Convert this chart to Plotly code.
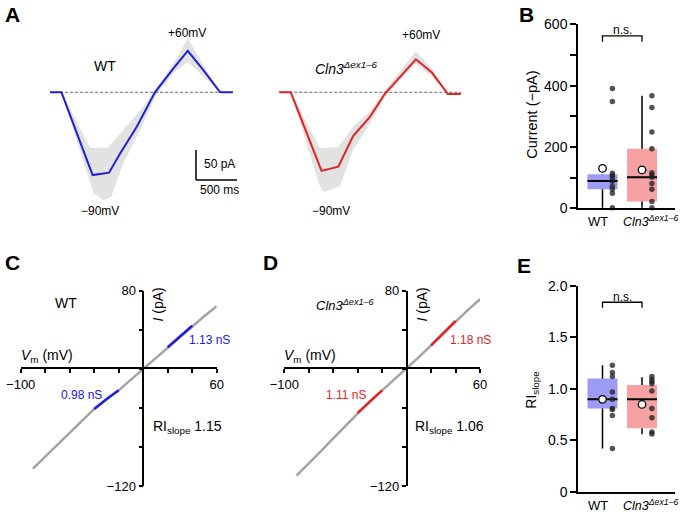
import plotly.graph_objects as go

W, H = 681, 513
def px(x): return x / W
def py(y): return 1 - y / H

FONT = "Liberation Sans, Arial, Helvetica, sans-serif"
BLUE = "#2020d6"
RED = "#e32222"
BAND = "#e2e2e2"
IVGRAY = "#a3a3a3"

# ---------------- Panel A data (time ms, current pA) ----------------
wt_t = [0, 140, 520, 600, 720, 855, 1060, 1280, 1505, 1680, 1870, 2075, 2230]
wt_i = [0, 0, -138, -136, -134, -102, -57, 0, 40, 69, 37, 0, 0]
wt_up_t = [140, 490, 710, 895, 1100, 1280, 1505, 1680, 1870, 2075]
wt_up_i = [0, -93, -92, -63, -30, 4, 48, 90, 45, 0]
wt_lo_t = [140, 530, 650, 745, 895, 1100, 1280, 1505, 1680, 1870, 2075]
wt_lo_i = [0, -168, -180, -174, -118, -63, -7, 32, 51, 26, 0]

ko_t = [0, 140, 515, 720, 900, 1105, 1290, 1470, 1665, 1860, 2055, 2215]
ko_i = [0, 0, -131, -124, -73, -41, -2, 26, 55, 33, -3, -3]
ko_up_t = [140, 495, 720, 900, 1105, 1290, 1665, 1860, 2055]
ko_up_i = [0, -93, -91, -57, -32, 4, 68, 40, 0]
ko_lo_t = [140, 495, 540, 740, 900, 1105, 1290, 1665, 1860, 2055]
ko_lo_i = [0, -157, -166, -157, -96, -52, -7, 48, 26, -3]

scale_t = 500   # ms
scale_i = 50    # pA

# ---------------- Panel B / E data ----------------
categories = ["WT", "Cln3"]
cat_pos = [0, 1]
wt_current = [391, 348, 114, 107, 100, 88, 72, 62, 49, 2]
ko_current = [367, 329, 249, 194, 116, 109, 101, 81, 62, 22, 2]
# q1, median, q3, whisker low, whisker high, mean
wt_current_box = [62, 89, 111, 2, 111, 130]
ko_current_box = [22, 101, 194, 2, 367, 125]

wt_ri = [1.23, 1.16, 1.12, 0.97, 0.90, 0.81, 0.80, 0.74, 0.42]
ko_ri = [1.12, 1.09, 1.07, 1.05, 0.98, 0.81, 0.72, 0.58, 0.56]
wt_ri_box = [0.81, 0.898, 1.10, 0.42, 1.23, 0.898]
ko_ri_box = [0.616, 0.898, 1.037, 0.558, 1.112, 0.849]

# ---------------- Panel C / D data (mV, pA) ----------------
iv_v = [-90, -80, -70, -60, -50, -40, -30, -20, -10, 0, 10, 20, 30, 40, 50, 60]
wt_iv = [-102, -90, -77, -65, -53, -41, -31, -22, -11, 0, 11, 22, 33, 44, 54, 64]
ko_iv = [-109, -97, -84, -71, -58, -45, -33, -22, -11, 0, 12, 24, 36, 49, 60, 71]
neg_win = [-40, -20]
pos_win = [20, 40]

fig = go.Figure()

def band(ut, ui, lt, li, xa, ya):
    fig.add_trace(go.Scatter(x=ut + lt[::-1], y=ui + li[::-1], fill="toself",
                             fillcolor=BAND, line=dict(width=0), mode="lines",
                             xaxis=xa, yaxis=ya, hoverinfo="skip"))

# Panel A left
band(wt_up_t, wt_up_i, wt_lo_t, wt_lo_i, "x", "y")
fig.add_trace(go.Scatter(x=[wt_t[0], wt_t[-1]], y=[0, 0], mode="lines",
                         line=dict(color="#666", width=1, dash="3px,2px"), xaxis="x", yaxis="y"))
fig.add_trace(go.Scatter(x=wt_t, y=wt_i, mode="lines", line=dict(color=BLUE, width=2),
                         xaxis="x", yaxis="y"))
# Panel A right
band(ko_up_t, ko_up_i, ko_lo_t, ko_lo_i, "x2", "y2")
fig.add_trace(go.Scatter(x=[ko_t[0], ko_t[-1]], y=[0, 0], mode="lines",
                         line=dict(color="#666", width=1, dash="3px,2px"), xaxis="x2", yaxis="y2"))
fig.add_trace(go.Scatter(x=ko_t, y=ko_i, mode="lines", line=dict(color=RED, width=2),
                         xaxis="x2", yaxis="y2"))

shapes = []
# scale bar (panel A)
sb_x0, sb_y0 = 1780, -146
shapes.append(dict(type="line", xref="x", yref="y", x0=sb_x0, x1=sb_x0, y0=sb_y0, y1=sb_y0 + scale_i,
                   line=dict(color="black", width=1.5)))
shapes.append(dict(type="line", xref="x", yref="y", x0=sb_x0, x1=sb_x0 + scale_t, y0=sb_y0, y1=sb_y0,
                   line=dict(color="black", width=1.5)))

# Panels B and E
def boxpanel(xa, ya, data_lists, boxes, colors):
    for pos, vals, b, col in zip(cat_pos, data_lists, boxes, colors):
        q1, med, q3, wlo, whi, mean = b
        shapes.append(dict(type="line", xref=xa, yref=ya, x0=pos, x1=pos, y0=wlo, y1=whi,
                           line=dict(color="black", width=1.5), layer="below"))
        shapes.append(dict(type="rect", xref=xa, yref=ya, x0=pos - 0.38, x1=pos + 0.38, y0=q1, y1=q3,
                           fillcolor=col, line=dict(width=0), layer="below"))
        shapes.append(dict(type="line", xref=xa, yref=ya, x0=pos - 0.38, x1=pos + 0.38, y0=med, y1=med,
                           line=dict(color="black", width=2), layer="below"))
        fig.add_trace(go.Scatter(x=[pos + 0.25] * len(vals), y=vals, mode="markers",
                                 marker=dict(size=5.5, color="rgba(35,35,35,0.78)", line=dict(width=0)),
                                 xaxis=xa, yaxis=ya, cliponaxis=False))
        fig.add_trace(go.Scatter(x=[pos], y=[mean], mode="markers",
                                 marker=dict(size=7.5, color="white", line=dict(color="black", width=1.3)),
                                 xaxis=xa, yaxis=ya, cliponaxis=False))

boxpanel("x3", "y3", [wt_current, ko_current], [wt_current_box, ko_current_box], ["#9c9cf6", "#f6a2a2"])
boxpanel("x6", "y6", [wt_ri, ko_ri], [wt_ri_box, ko_ri_box], ["#9c9cf6", "#f6a2a2"])

# significance brackets
shapes.append(dict(type="path", xref="x3", yref="y3", path=f"M {cat_pos[0]},543 L {cat_pos[0]},562 L {cat_pos[1]},562 L {cat_pos[1]},543",
                   line=dict(color="black", width=1.3)))
shapes.append(dict(type="path", xref="x6", yref="y6", path=f"M {cat_pos[0]},1.789 L {cat_pos[0]},1.842 L {cat_pos[1]},1.842 L {cat_pos[1]},1.789",
                   line=dict(color="black", width=1.3)))

# Panels C and D
def ivpanel(xa, ya, iv, col):
    fig.add_trace(go.Scatter(x=iv_v, y=iv, mode="lines", line=dict(color=IVGRAY, width=2.5),
                             xaxis=xa, yaxis=ya))
    for win in (neg_win, pos_win):
        vs = [v for v in iv_v if win[0] <= v <= win[1]]
        cs = [c for v, c in zip(iv_v, iv) if win[0] <= v <= win[1]]
        fig.add_trace(go.Scatter(x=vs, y=cs, mode="lines", line=dict(color=col, width=2.5),
                                 xaxis=xa, yaxis=ya))

ivpanel("x4", "y4", wt_iv, BLUE)
ivpanel("x5", "y5", ko_iv, RED)

# ---------------- axes ----------------
hidden = dict(visible=False, showgrid=False, zeroline=False, automargin=False)
axline = dict(showline=True, linecolor="black", linewidth=1.5, showgrid=False, zeroline=False,
              ticks="outside", tickcolor="black", tickwidth=1.5, automargin=False)

def minor(vals, ln):
    return dict(tickvals=vals, ticks="outside", ticklen=ln, tickwidth=1.5, tickcolor="black", showgrid=False)

def mv_axes(x0, x1, yzero, xzero):
    xa = dict(axline, domain=[px(x0), px(x1)], range=[-100, 60], anchor="free", position=py(yzero),
              tickvals=[-100, 60], ticktext=["−100", "60"], ticklen=4, tickfont=dict(size=13),
              minor=minor([-80, -60, -40, -20, 0, 20, 40], 4))
    ya = dict(axline, domain=[py(486.3), py(290.5)], range=[-120, 80], anchor="free", position=px(xzero),
              tickvals=[-120, 80], ticktext=["−120", "80"], ticklen=4, tickfont=dict(size=13),
              minor=minor([-80, -40, 0, 40], 4))
    return xa, ya

x4, y4 = mv_axes(20.7, 216.7, 368.3, 143.3)
x5, y5 = mv_axes(284.3, 480.0, 368.3, 406.6)

fig.update_layout(
    width=W, height=H, autosize=False, margin=dict(l=0, r=0, t=0, b=0, pad=0),
    paper_bgcolor="white", plot_bgcolor="white", showlegend=False,
    font=dict(family=FONT, size=13, color="black"),
    xaxis=dict(hidden, domain=[px(40), px(240)], range=[-122, 2317]),
    yaxis=dict(hidden, domain=[py(215), py(30)], range=[-204.5, 103.8]),
    xaxis2=dict(hidden, domain=[px(269), px(469)], range=[-125.6, 2313.4], anchor="y2"),
    yaxis2=dict(hidden, domain=[py(215), py(30)], range=[-204.5, 103.8], anchor="x2"),
    xaxis3=dict(showline=True, linecolor="black", linewidth=1.5, showgrid=False, zeroline=False, automargin=False,
                ticks="", showticklabels=False, domain=[px(578), px(675)], range=[-0.62, 1.835], anchor="y3"),
    yaxis3=dict(axline, domain=[py(208.3), py(24.3)], range=[0, 600], anchor="x3", ticklen=6,
                tickvals=[0, 200, 400, 600], ticktext=["0", "200", "400", "600"],
                tickfont=dict(size=14), minor=minor([100, 300, 500], 6)),
    xaxis4=x4, yaxis4=y4, xaxis5=x5, yaxis5=y5,
    xaxis6=dict(showline=True, linecolor="black", linewidth=1.5, showgrid=False, zeroline=False, automargin=False,
                ticks="", showticklabels=False, domain=[px(578), px(675)], range=[-0.62, 1.835], anchor="y6"),
    yaxis6=dict(axline, domain=[py(491.7), py(286)], range=[0, 2], anchor="x6", ticklen=6,
                tickvals=[0, 0.5, 1.0, 1.5, 2.0], ticktext=["0", "0.5", "1.0", "1.5", "2.0"],
                tickfont=dict(size=14)),
    shapes=shapes,
)

ann = []
def A(text, x, y, size=13, color="black", xanchor="center", angle=0, bold=False, xref="paper", yref="paper"):
    if xref == "paper":
        x = px(x)
    if yref == "paper":
        y = py(y)
    ann.append(dict(text=f"<b>{text}</b>" if bold else text, x=x, y=y, xref=xref, yref=yref,
                    showarrow=False, xanchor=xanchor, yanchor="middle", textangle=angle,
                    font=dict(size=size, color=color, family=FONT)))

KO = "<i>Cln3<sup>Δex1–6</sup></i>"
# panel letters
A("A", 12.5, 14.5, 21, bold=True)
A("B", 526.5, 14.5, 21, bold=True)
A("C", 12.5, 262, 21, bold=True)
A("D", 270, 262, 21, bold=True)
A("E", 524, 265, 21, bold=True)
# panel A text
A("WT", 105, 66, 14)
A("+60mV", 187.5, 33, 12)
A("−90mV", 99.5, 211, 12)
A(KO, 313, 68, 14, xanchor="left")
A("+60mV", 421, 35, 12)
A("−90mV", 331, 211, 12)
A(f"{scale_i} pA", 202, 164, 12, xanchor="left")
A(f"{scale_t} ms", 198, 190, 12, xanchor="left")
# panel B
A("Current (−pA)", 531.7, 115, 14.5, angle=-90)
A("n.s.", 0.5, 580, 12, xref="x3", yref="y3")
A("WT", 598, 221, 13)
A(KO, 621, 221, 12.5, xanchor="left")
# panel E
A("RI<sub>slope</sub>", 531.7, 390, 14, angle=-90)
A("n.s.", 0.5, 1.896, 12, xref="x6", yref="y6")
A("WT", 598, 505, 13)
A(KO, 621, 505, 12.5, xanchor="left")
# panel C
A("WT", 66, 303, 14)
A("<i>V</i><sub>m</sub> (mV)", 19, 356, 14, xanchor="left")
A("<i>I</i> (pA)", 157.5, 305, 14, angle=-90)
A("1.13 nS", 209, 340, 12, color=BLUE)
A("0.98 nS", 81, 395, 12, color=BLUE)
A("RI<sub>slope</sub> 1.15", 187, 427, 14)
# panel D
A(KO, 345, 305, 13)
A("<i>V</i><sub>m</sub> (mV)", 282, 356, 14, xanchor="left")
A("<i>I</i> (pA)", 421.5, 305, 14, angle=-90)
A("1.18 nS", 470, 340, 12, color=RED)
A("1.11 nS", 346, 395, 12, color=RED)
A("RI<sub>slope</sub> 1.06", 449, 427, 14)

fig.update_layout(annotations=ann)
fig.write_html("out.html", config={"displayModeBar": False},
               post_script="document.body.style.margin='0px';document.body.style.overflow='hidden';")
